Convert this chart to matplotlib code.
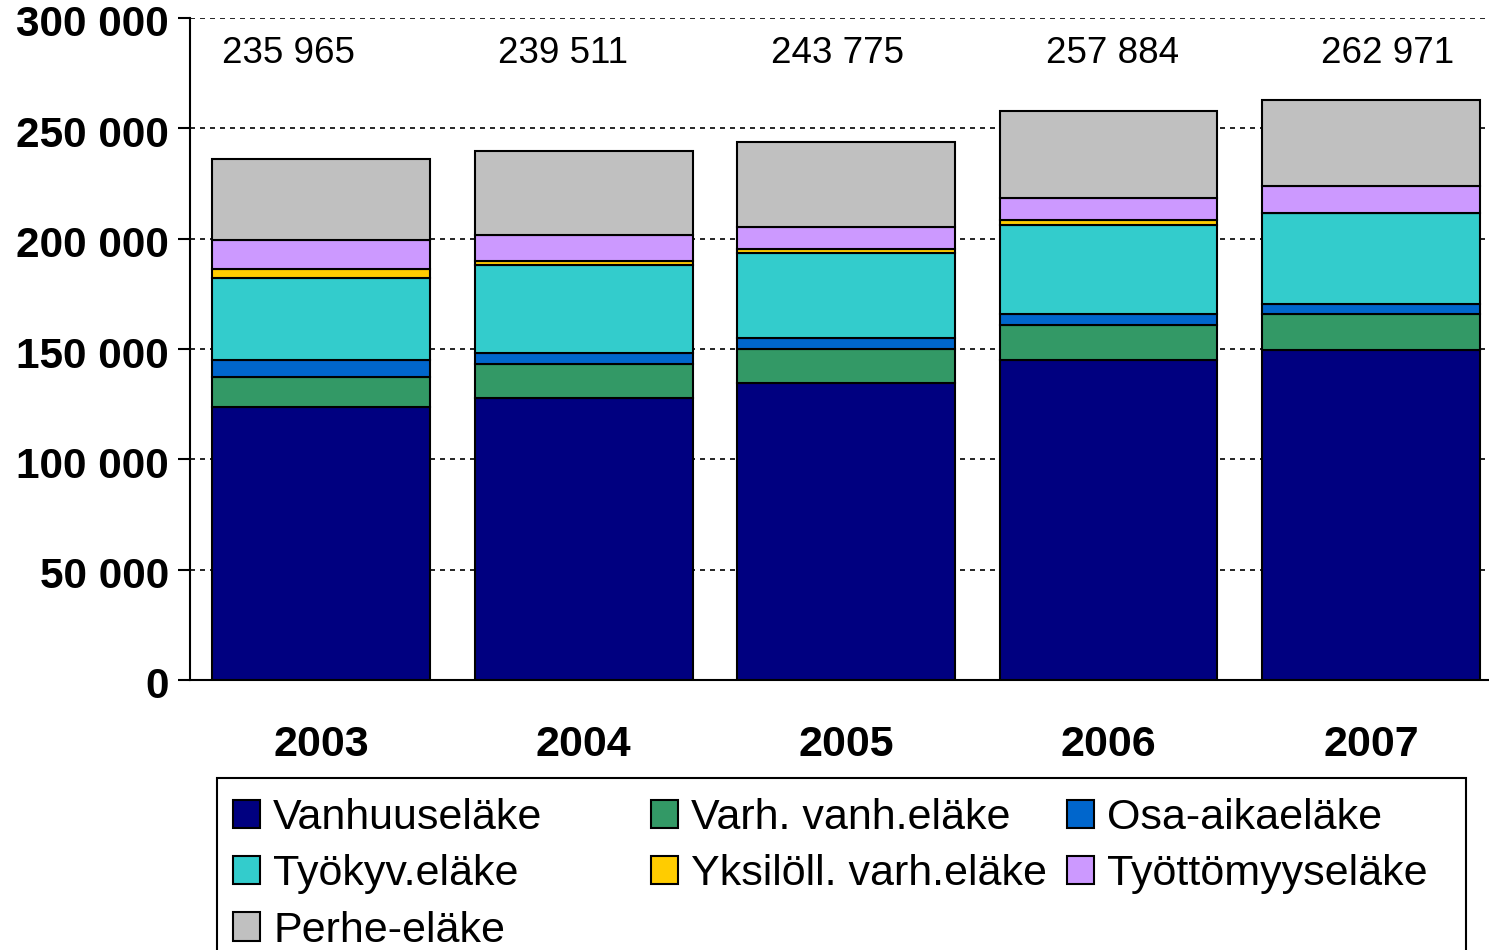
import matplotlib
matplotlib.use("Agg")
from matplotlib import pyplot as plt
from matplotlib.patches import Rectangle
from matplotlib.ticker import FuncFormatter
from matplotlib.transforms import ScaledTranslation

plt.rcParams['font.family'] = ['Liberation Sans', 'DejaVu Sans']

years = ['2003', '2004', '2005', '2006', '2007']
totals = [235965, 239511, 243775, 257884, 262971]

vanhuus = [123500, 128000, 134500, 144800, 149500]
varh_vanh = [13900, 15000, 15600, 16200, 16300]
osa_aika = [7400, 5400, 4900, 5000, 4700]
tyokyv = [37500, 39700, 38300, 40200, 41300]
yksiloll = [3800, 1800, 2200, 2100, 0]
tyottomyys = [13100, 11800, 9800, 10000, 11900]
perhe = [36765, 37811, 38475, 39584, 39271]

series = [
    ('Vanhuuseläke', vanhuus, '#000080'),
    ('Varh. vanh.eläke', varh_vanh, '#339966'),
    ('Osa-aikaeläke', osa_aika, '#0066CC'),
    ('Työkyv.eläke', tyokyv, '#33CCCC'),
    ('Yksilöll. varh.eläke', yksiloll, '#FFCC00'),
    ('Työttömyyseläke', tyottomyys, '#CC99FF'),
    ('Perhe-eläke', perhe, '#C0C0C0'),
]

W, H = 1489, 950
fig = plt.figure(figsize=(W / 100, H / 100), dpi=100)
ax = fig.add_axes([190 / W, 1 - 680 / H, 1 - 190 / W, (680 - 18) / H])

x = list(range(len(years)))
bottom = [0] * len(years)
handles = []
for name, vals, col in series:
    b = ax.bar(x, vals, width=0.83, bottom=bottom, color=col,
               edgecolor='black', linewidth=1.5, label=name, zorder=3)
    handles.append(b)
    bottom = [bo + v for bo, v in zip(bottom, vals)]

# total labels above the bars
for i, t in enumerate(totals):
    ax.text(i * 1.047 - 0.126, 283700, f'{t:,}'.replace(',', ' '),
            ha='center', va='center', fontsize=26.5)

ax.set_ylim(0, 300000)
ax.set_xlim(-0.5, 4.45)
ax.set_yticks(range(0, 300001, 50000))
ax.yaxis.set_major_formatter(FuncFormatter(lambda v, p: f'{int(v):,}'.replace(',', ' ')))
ax.set_xticks(x)
ax.set_xticklabels(years)

ax.grid(axis='y', color='black', linestyle=(0, (3, 3)), linewidth=1.2, zorder=0)
ax.set_axisbelow(True)
for s in ['top', 'right']:
    ax.spines[s].set_visible(False)
for s in ['left', 'bottom']:
    ax.spines[s].set_linewidth(1.5)

ax.tick_params(axis='y', length=9, width=1.5, pad=6, labelsize=30.5)
ax.tick_params(axis='x', length=0, pad=32.5, labelsize=31)
shift = ScaledTranslation(0, -3 / 100, fig.dpi_scale_trans)
for lab in ax.get_yticklabels():
    lab.set_fontweight('bold')
    lab.set_transform(lab.get_transform() + shift)
for lab in ax.get_xticklabels():
    lab.set_fontweight('bold')

# legend frame
fig.patches.append(Rectangle((217 / W, -0.05), (1466 - 217) / W, 1 - 778 / H + 0.05,
                             transform=fig.transFigure, facecolor='white',
                             edgecolor='black', linewidth=1.5, zorder=1))

cols = [[0, 3, 6], [1, 4], [2, 5]]
col_x = [233, 651, 1067]
for xs, idx in zip(col_x, cols):
    leg = fig.legend([handles[k] for k in idx], [series[k][0] for k in idx],
                     loc='upper left', bbox_to_anchor=(xs / W, 1 - 798 / H),
                     frameon=False, fontsize=31, handlelength=0.63, handleheight=0.63,
                     handletextpad=0.3, labelspacing=0.38, borderpad=0, borderaxespad=0)
    leg.set_zorder(2)

fig.savefig('out.png', dpi=100)
